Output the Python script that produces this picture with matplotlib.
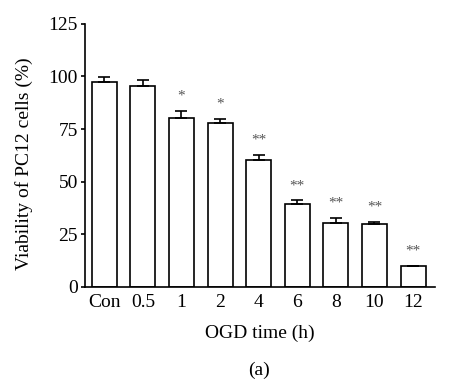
import matplotlib
matplotlib.use("Agg")
import matplotlib.pyplot as plt
import numpy as np

groups = ["Con", "0.5", "1", "2", "4", "6", "8", "10", "12"]
viability = [97.5, 95.5, 80.5, 78.0, 60.2, 39.6, 30.6, 30.1, 10.2]
sem = [2.4, 2.8, 2.9, 2.0, 2.3, 1.5, 2.0, 0.9, 0.0]
marks = ["", "", "*", "*", "**", "**", "**", "**", "**"]

plt.rcParams['font.family'] = ['Liberation Serif', 'DejaVu Serif']
plt.rcParams['font.size'] = 14

fig = plt.figure(figsize=(4.57, 3.91), dpi=100)
ax = fig.add_axes([0.186, 0.266, 0.766, 0.673])

x = np.arange(len(groups))
ax.bar(x, viability, width=0.65, color='white', edgecolor='black', linewidth=1.2)
ax.errorbar(x, viability, yerr=[np.zeros(len(sem)), sem], fmt='none',
            ecolor='black', elinewidth=1.2, capsize=4, capthick=1.2)
for xi, v, e, m in zip(x, viability, sem, marks):
    if m:
        ax.text(xi, v + e + 4.0, m, ha='center', va='bottom', fontsize=11, color='#555555')

ax.set_xlim(-0.5, 8.57)
ax.set_ylim(0, 125)
ax.set_yticks([0, 25, 50, 75, 100, 125])
ax.set_xticks(x)
ax.set_xticklabels(groups)
ax.tick_params(axis='x', length=0, pad=5, labelsize=14)
ax.tick_params(axis='y', length=3, width=1.2, direction='out', pad=2, labelsize=14)
for s in ['top', 'right']:
    ax.spines[s].set_visible(False)
for s in ['left', 'bottom']:
    ax.spines[s].set_linewidth(1.2)

ax.set_ylabel("Viability of PC12 cells (%)", fontsize=14)
ax.yaxis.set_label_coords(-0.149, 0.47)
ax.set_xlabel("OGD time (h)", fontsize=14, labelpad=10)
fig.text(0.567, 0.054, "(a)", ha='center', va='center', fontsize=14)

fig.savefig("out.png", dpi=100)
